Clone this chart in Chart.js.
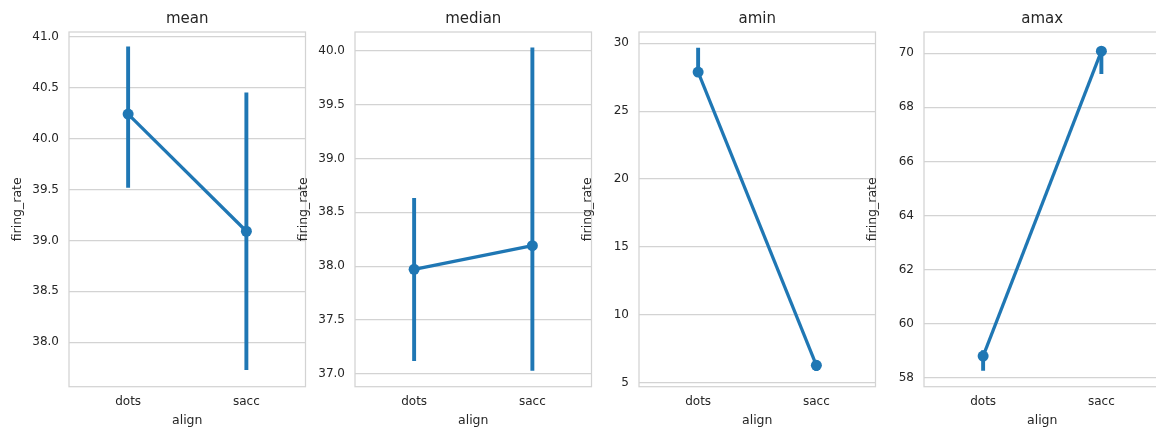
<!DOCTYPE html>
<html><head><meta charset="utf-8">
<script src="https://cdn.jsdelivr.net/npm/chart.js@4/dist/chart.umd.min.js"></script>
<style>
html,body{margin:0;padding:0;background:#fff;overflow:hidden;width:1156px;height:429px;position:relative}
canvas{position:absolute;top:0}
</style></head><body>
<canvas id="c0" width="311" height="429" style="left:0px"></canvas>
<canvas id="c1" width="311" height="429" style="left:286px"></canvas>
<canvas id="c2" width="311" height="429" style="left:570px"></canvas>
<canvas id="c3" width="311" height="429" style="left:855px"></canvas>
<script>
const categories = ['dots', 'sacc'];
const panelTitles = ['mean', 'median', 'amin', 'amax'];
const xLabel = 'align';
const yLabel = 'firing_rate';

const meanValues = [40.24, 39.09];
const meanCiLow = [39.52, 37.73];
const meanCiHigh = [40.90, 40.45];

const medianValues = [37.97, 38.19];
const medianCiLow = [37.12, 37.03];
const medianCiHigh = [38.63, 40.03];

const aminValues = [27.88, 6.28];
const aminCiLow = [27.60, 5.89];
const aminCiHigh = [29.64, 6.60];

const amaxValues = [58.80, 70.08];
const amaxCiLow = [58.27, 69.25];
const amaxCiHigh = [59.00, 70.19];

const meanTicks = [38.0, 38.5, 39.0, 39.5, 40.0, 40.5, 41.0];
const medianTicks = [37.0, 37.5, 38.0, 38.5, 39.0, 39.5, 40.0];
const aminTicks = [5, 10, 15, 20, 25, 30];
const amaxTicks = [58, 60, 62, 64, 66, 68, 70];

const panels = [
  {values: meanValues, lo: meanCiLow, hi: meanCiHigh, ticks: meanTicks, dec: 1, min: 37.564, max: 41.046},
  {values: medianValues, lo: medianCiLow, hi: medianCiHigh, ticks: medianTicks, dec: 1, min: 36.879, max: 40.177},
  {values: aminValues, lo: aminCiLow, hi: aminCiHigh, ticks: aminTicks, dec: 0, min: 4.705, max: 30.83},
  {values: amaxValues, lo: amaxCiLow, hi: amaxCiHigh, ticks: amaxTicks, dec: 0, min: 57.667, max: 70.788}
];

const BLUE = '#1f77b4';
const GRID = '#d3d3d3';
const TEXT = '#262626';
const FONT = 'DejaVu Sans';

const framePlugin = {
  id: 'frame',
  beforeDatasetsDraw(chart) {
    const a = chart.chartArea;
    const ctx = chart.ctx;
    ctx.save();
    ctx.strokeStyle = GRID;
    ctx.lineWidth = 1.25;
    ctx.strokeRect(a.left, a.top, a.right - a.left, a.bottom - a.top);
    ctx.restore();
  }
};

panels.forEach((p, i) => {
  const ctx = document.getElementById('c' + i);
  new Chart(ctx, {
    data: {
      labels: categories,
      datasets: [
        {
          type: 'line',
          data: p.values,
          borderColor: BLUE,
          backgroundColor: BLUE,
          borderWidth: 3.25,
          pointRadius: 5.5,
          pointBorderWidth: 0,
          pointBackgroundColor: BLUE,
          tension: 0,
          order: 0
        },
        {
          type: 'bar',
          data: p.lo.map((v, k) => [v, p.hi[k]]),
          backgroundColor: BLUE,
          borderWidth: 0,
          barThickness: 3.25,
          order: 1
        }
      ]
    },
    options: {
      responsive: false,
      animation: false,
      devicePixelRatio: 1,
      layout: {padding: {left: 0, right: 4, top: 0, bottom: 0}},
      plugins: {
        legend: {display: false},
        tooltip: {enabled: false},
        title: {
          display: true,
          fullSize: false,
          text: panelTitles[i],
          color: TEXT,
          font: {family: FONT, size: 15, weight: 'normal'},
          padding: {top: 9.8, bottom: 4.2}
        }
      },
      scales: {
        x: {
          type: 'category',
          offset: true,
          grid: {display: false, drawTicks: false},
          border: {display: false},
          ticks: {color: TEXT, font: {family: FONT, size: 12}, padding: 7.5, maxRotation: 0},
          title: {display: true, text: xLabel, color: TEXT, font: {family: FONT, size: 12.5}, padding: {top: 0, bottom: 1}},
          afterFit(scale) { scale.height = 42.3; }
        },
        y: {
          type: 'linear',
          min: p.min,
          max: p.max,
          grid: {color: GRID, lineWidth: 1.25, drawTicks: false},
          border: {display: false},
          ticks: {
            color: TEXT,
            font: {family: FONT, size: 12},
            padding: 10,
            callback: (v) => Number(v).toFixed(p.dec)
          },
          afterBuildTicks(scale) { scale.ticks = p.ticks.map(v => ({value: v})); },
          title: {display: true, text: yLabel, color: TEXT, font: {family: FONT, size: 12.5}, padding: {top: 10, bottom: 0}},
          afterFit(scale) { scale.width = 69; }
        }
      }
    },
    plugins: [framePlugin]
  });
});
</script>
</body></html>
